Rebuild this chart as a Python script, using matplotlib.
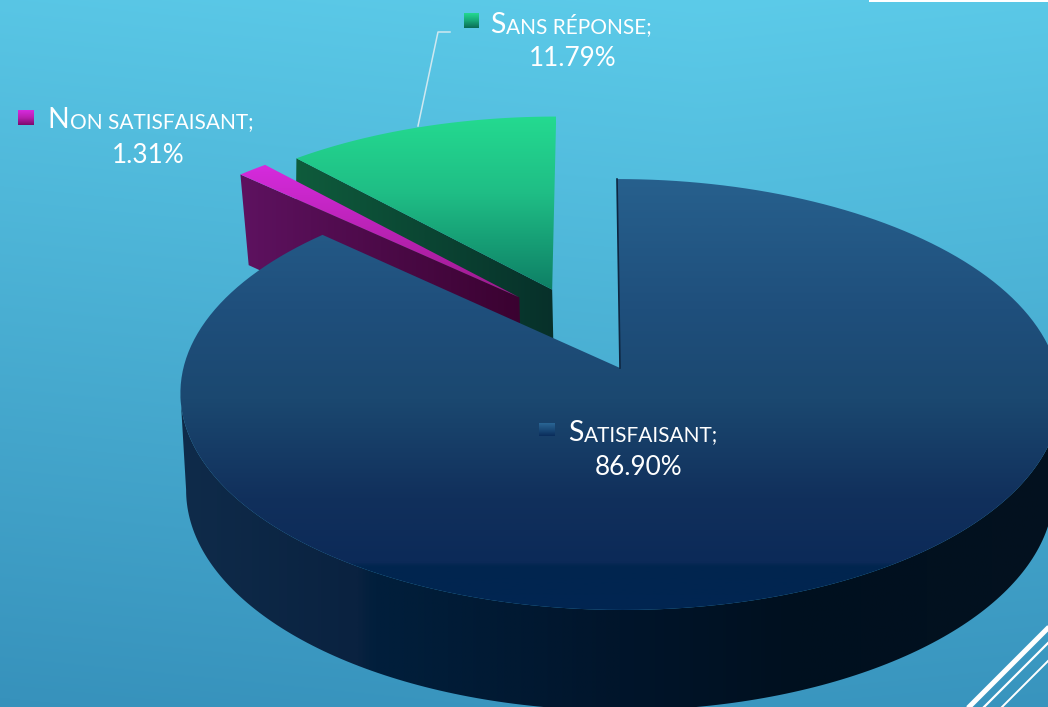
#!/usr/bin/env python
"""
3D exploded pie of the satisfaction survey, on a gradient slide background.
"""

import numpy as np
import matplotlib
matplotlib.use("Agg")
import matplotlib.pyplot as plt
from matplotlib.colors import LinearSegmentedColormap, to_rgb
from matplotlib.patches import Polygon, Rectangle

# Chart data
categories = ["Satisfaisant", "Non satisfaisant", "Sans réponse"]
shares = [86.90, 1.31, 11.79]
share_labels = ["86.90%", "1.31%", "11.79%"]

WIDTH, HEIGHT = 1048, 707

# Projection of the unit disc on the page (pixels)
APEX_X, APEX_Y = 620, 368
RX_TOP, RY_TOP = 436.6, 212.2
RX_BOTTOM, RY_BOTTOM = 430.6, 217.0
DEPTH = 95
PERSPECTIVE = 0.123
SKEW = 3.0

# Offset of each slice on the disc, pulled out of the pie
explode = [(0.0, 0.0), (-0.238, -0.347), (-0.160, -0.387)]

# Visible part of the outer rim, clockwise from the top (degrees)
RIM_START, RIM_STOP = 97, 263

plt.rcParams["font.family"] = ["Lato", "DejaVu Sans"]

fig = plt.figure(figsize=(WIDTH / 100, HEIGHT / 100), dpi=100)
ax = fig.add_axes([0, 0, 1, 1])
ax.set_xlim(0, WIDTH)
ax.set_ylim(HEIGHT, 0)
ax.axis("off")


def project(u, v, bottom=False):
    """Disc coordinates to page pixels."""
    w = 1 - PERSPECTIVE * v
    if bottom:
        return APEX_X + RX_BOTTOM * u / w, APEX_Y + DEPTH + RY_BOTTOM * v / w
    return APEX_X + RX_TOP * u / w + SKEW * v, APEX_Y + RY_TOP * v / w


def slice_points(start, stop, offset, bottom=False, n=180):
    theta = np.radians(np.linspace(start, stop, n))
    u = np.sin(theta) + offset[0]
    v = -np.cos(theta) + offset[1]
    return np.column_stack(project(u, v, bottom))


def gradient(points, stops, colors, horizontal=False, zorder=1):
    """Fill a polygon with a linear gradient through a clip path."""
    cmap = LinearSegmentedColormap.from_list("g", list(zip(stops, colors)))
    ramp = np.linspace(0, 1, 512)
    ramp = ramp[np.newaxis, :] if horizontal else ramp[:, np.newaxis]
    x0, y0 = points.min(axis=0)
    x1, y1 = points.max(axis=0)
    im = ax.imshow(ramp, cmap=cmap, vmin=0, vmax=1, aspect="auto", origin="upper",
                   extent=[x0, x1, y1, y0], zorder=zorder, interpolation="bilinear")
    patch = Polygon(points, closed=True, transform=ax.transData, fc="none", ec="none")
    ax.add_patch(patch)
    im.set_clip_path(patch)
    return im


# Background, slightly tilted gradient
yy, xx = np.mgrid[0:HEIGHT, 0:WIDTH]
tilt = (yy + 0.10 * np.abs(xx - 700)) / (HEIGHT + 60)
bg_top, bg_bottom = np.array(to_rgb("#5CCBE9")), np.array(to_rgb("#3792BC"))
bg = bg_top + tilt[..., np.newaxis] * (bg_bottom - bg_top)
ax.imshow(bg, extent=[0, WIDTH, HEIGHT, 0], aspect="auto", zorder=0)

# Slice angles, clockwise from the top
edges = np.concatenate([[0], np.cumsum(shares)])
edges = edges / edges[-1] * 360

side_colors = [
    (["#0F2B4A", "#0A2240", "#011F3C", "#01152B", "#00101F", "#04121F"],
     [0, 0.2, 0.22, 0.5, 0.7, 1]),
    (["#5E1260", "#3A0230"], [0, 1]),
    (["#0F5C3C", "#07302A"], [0, 1]),
]
top_colors = [
    (["#27608D", "#1F4F7C", "#1B4870", "#11305C", "#0C2A58", "#01264F", "#012552"],
     [0, 0.3, 0.51, 0.74, 0.89, 0.90, 1]),
    (["#D62BDE", "#9E1A8C"], [0, 1]),
    (["#24DA90", "#1FBD85", "#0E7F65"], [0, 0.45, 1]),
]

# Exploded slices first, green behind purple, then the big blue slice
zorder = 2
for i in [2, 1, 0]:
    start, stop = edges[i], edges[i + 1]
    off = explode[i]
    apex_top = np.array(project(off[0], off[1]))
    apex_bot = np.array(project(off[0], off[1], bottom=True))
    if i == 0:
        # outer rim, straight sides where the disc silhouette turns
        rim_top = slice_points(RIM_START, RIM_STOP, off)
        rim_bot = slice_points(RIM_START, RIM_STOP, off, bottom=True)
        pts = np.vstack([rim_top, rim_bot[::-1]])
        gradient(pts, side_colors[i][1], side_colors[i][0], horizontal=True, zorder=zorder)
    else:
        # cut wall facing the viewer, along the leading edge of the slice
        corner_top = slice_points(start, start, off, n=1)[0]
        corner_bot = slice_points(start, start, off, bottom=True, n=1)[0]
        if i == 2:
            corner_bot[0] = corner_top[0] - 1
        pts = np.array([corner_top, apex_top, apex_bot, corner_bot])
        gradient(pts, side_colors[i][1], side_colors[i][0], horizontal=True, zorder=zorder)
    zorder += 1
    face = np.vstack([apex_top, slice_points(start, stop, off)])
    gradient(face, top_colors[i][1], top_colors[i][0], zorder=zorder)
    zorder += 1

# thin dark wall visible on the start of the blue slice
far = slice_points(0, 0, explode[0], n=1)[0]
apex = project(0, 0)
ax.plot([far[0], apex[0]], [far[1], apex[1]], color="#0E2640", lw=1.2, zorder=zorder)
zorder += 1

# Leader line of the green slice
ax.plot([418, 438, 450], [126, 32, 32], color="#CFE8F0", lw=1.1, zorder=zorder)


def smallcaps(x, baseline, text, big=20.5, small=15):
    """Initial capital then smaller capitals, as two real text pieces."""
    renderer = fig.canvas.get_renderer()
    head = ax.text(x, baseline, text[0].upper(), fontsize=big, color="white",
                   va="baseline", ha="left", zorder=20)
    bb = head.get_window_extent(renderer)
    tail = ax.text(x + bb.width + 1, baseline, text[1:].upper() + ";", fontsize=small,
                   color="white", va="baseline", ha="left", zorder=20)
    return head, tail


def legend_key(x0, y0, size_x, size_y, colors):
    pts = np.array([[x0, y0], [x0 + size_x, y0], [x0 + size_x, y0 + size_y], [x0, y0 + size_y]])
    gradient(pts, [0, 0.5, 1], colors, zorder=19)


label_pos = [(568, 441, 639, 475), (47, 128, 148, 163), (490, 33, 573, 66)]
key_pos = [(539, 423, 16, 13), (18, 110, 16, 15), (464, 13, 15, 15)]
key_colors = [
    ["#2A6594", "#1A4A78", "#0A2C5A"],
    ["#D62BDE", "#B81FB0", "#7A0A6A"],
    ["#24DA90", "#17A878", "#0A6A55"],
]
for i, name in enumerate(categories):
    x, base, cx, base2 = label_pos[i]
    smallcaps(x, base, name)
    ax.text(cx, base2, share_labels[i], fontsize=18.8, color="white",
            ha="center", va="baseline", zorder=20)
    legend_key(*key_pos[i], key_colors[i])

# Slide decoration: white bar top right, stripes bottom right
ax.add_patch(Rectangle((869, 0), 179, 2, fc="white", ec="none", zorder=21))
ax.plot([967, 1050], [709, 626], color="white", lw=3.6, zorder=21, solid_capstyle="butt")
ax.plot([982, 1050], [709, 641], color="white", lw=1.6, zorder=21, solid_capstyle="butt")
ax.plot([1000, 1050], [709, 659], color="white", lw=1.4, zorder=21, solid_capstyle="butt")

ax.set_xlim(0, WIDTH)
ax.set_ylim(HEIGHT, 0)
fig.savefig("out.png", dpi=100)
plt.close(fig)
